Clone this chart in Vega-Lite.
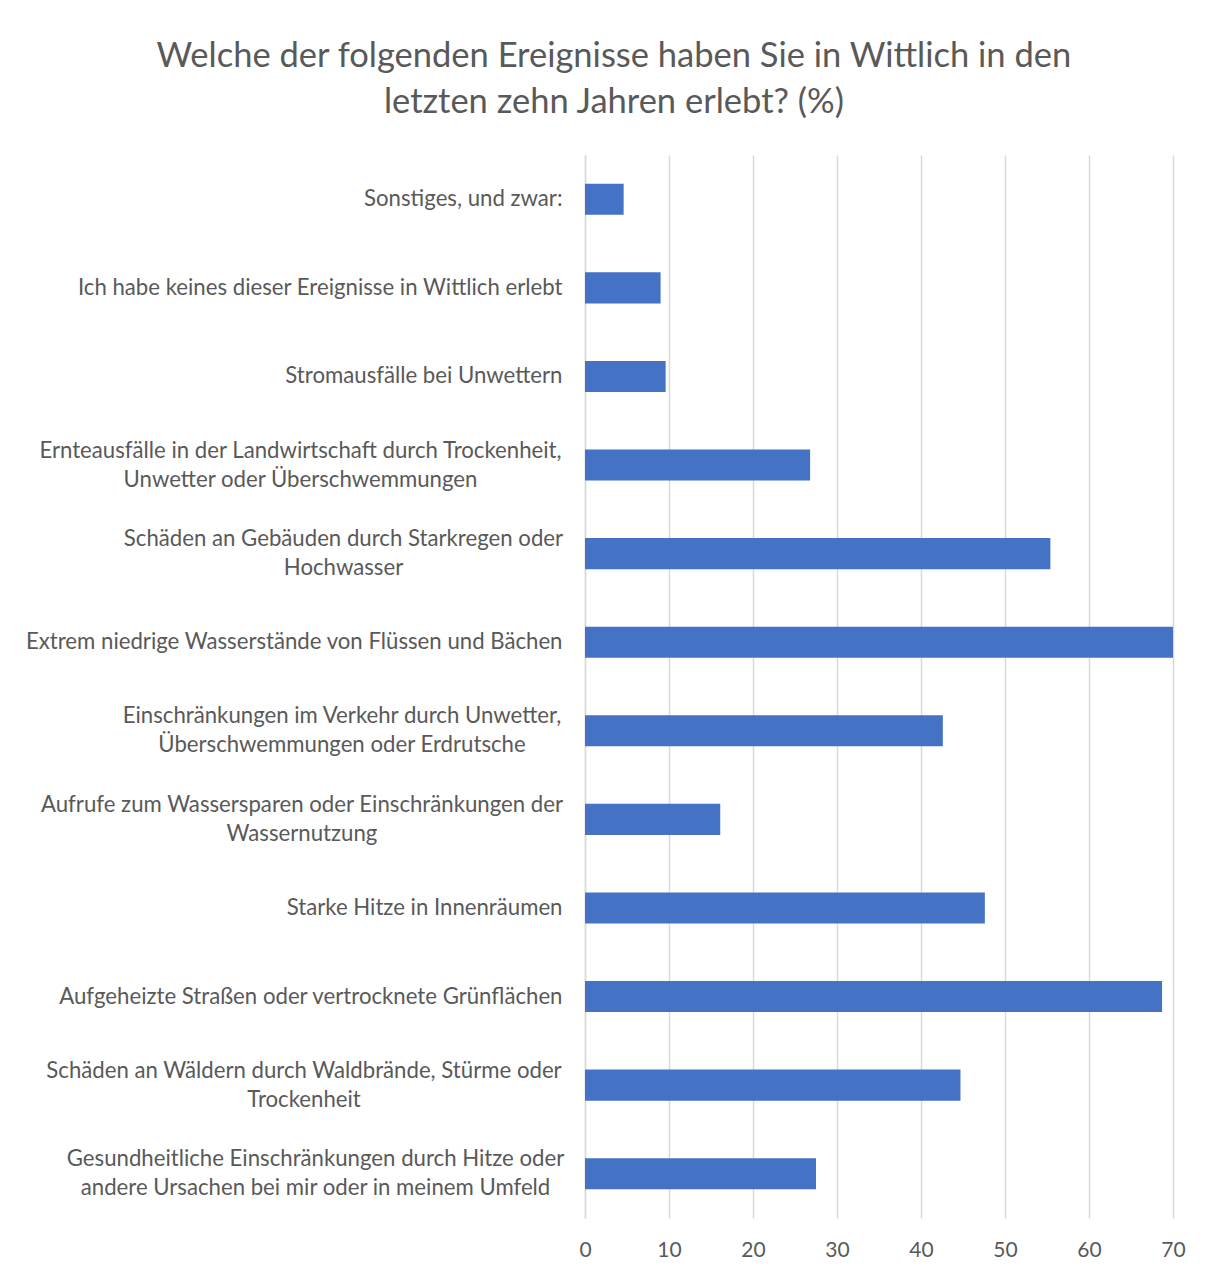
{
  "$schema": "https://vega.github.io/schema/vega-lite/v6.json",
  "width": 588,
  "height": 1063,
  "autosize": {"type": "none"},
  "padding": {"left": 585, "top": 155, "right": 39, "bottom": 55},
  "background": "white",
  "title": {
    "text": ["Welche der folgenden Ereignisse haben Sie in Wittlich in den", "letzten zehn Jahren erlebt? (%)"],
    "anchor": "middle",
    "frame": "bounds",
    "font": "Lato",
    "fontSize": 34.5,
    "fontWeight": "normal",
    "color": "#595959",
    "lineHeight": 46,
    "offset": 35,
    "dx": 9
  },
  "data": {
    "values": [
      {"label": "Sonstiges, und zwar:", "value": 4.6},
      {"label": "Ich habe keines dieser Ereignisse in Wittlich erlebt", "value": 9.0},
      {"label": "Stromausfälle bei Unwettern", "value": 9.6},
      {"label": "Ernteausfälle in der Landwirtschaft durch Trockenheit,|Unwetter oder Überschwemmungen", "value": 26.8},
      {"label": "Schäden an Gebäuden durch Starkregen oder|Hochwasser", "value": 55.4},
      {"label": "Extrem niedrige Wasserstände von Flüssen und Bächen", "value": 70.0},
      {"label": "Einschränkungen im Verkehr durch Unwetter,|Überschwemmungen oder Erdrutsche", "value": 42.6},
      {"label": "Aufrufe zum Wassersparen oder Einschränkungen der|Wassernutzung", "value": 16.1},
      {"label": "Starke Hitze in Innenräumen", "value": 47.6},
      {"label": "Aufgeheizte Straßen oder vertrocknete Grünflächen", "value": 68.7},
      {"label": "Schäden an Wäldern durch Waldbrände, Stürme oder|Trockenheit", "value": 44.7},
      {"label": "Gesundheitliche Einschränkungen durch Hitze oder|andere Ursachen bei mir oder in meinem Umfeld", "value": 27.5}
    ]
  },
  "mark": {"type": "bar", "color": "#4472C4"},
  "encoding": {
    "y": {
      "field": "label",
      "type": "nominal",
      "sort": null,
      "scale": {"paddingInner": 0.65, "paddingOuter": 0.325},
      "axis": {
        "title": null,
        "labelExpr": "split(datum.label, '|')",
        "labelFont": "Lato",
        "labelFontSize": 22.2,
        "labelColor": "#595959",
        "labelLineHeight": 29,
        "labelBaseline": "middle",
        "labelAlign": {"condition": {"test": "indexof(datum.value, '|') >= 0", "value": "center"}, "value": "right"},
        "labelOffset": {"condition": {"test": "indexof(datum.value, '|') >= 0", "value": -14.5}, "value": 0},
        "labelPadding": {
          "condition": [
            {"test": "indexof(datum.value, 'Ernteausf') === 0", "value": 285},
            {"test": "indexof(datum.value, 'Schäden an Geb') === 0", "value": 242},
            {"test": "indexof(datum.value, 'Einschränkungen im') === 0", "value": 243.5},
            {"test": "indexof(datum.value, 'Aufrufe') === 0", "value": 283.5},
            {"test": "indexof(datum.value, 'Schäden an Wäl') === 0", "value": 281.5},
            {"test": "indexof(datum.value, 'Gesundheit') === 0", "value": 270}
          ],
          "value": 23
        },
        "labelLimit": 600,
        "ticks": false,
        "domainColor": "#d9d9d9",
        "domainWidth": 1.5,
        "grid": false
      }
    },
    "x": {
      "field": "value",
      "type": "quantitative",
      "scale": {"domain": [0, 70], "nice": false},
      "axis": {
        "title": null,
        "values": [0, 10, 20, 30, 40, 50, 60, 70],
        "labelFont": "Lato",
        "labelFontSize": 21,
        "labelColor": "#595959",
        "labelPadding": 21,
        "labelFlush": false,
        "ticks": false,
        "domain": false,
        "grid": true,
        "gridColor": "#d9d9d9",
        "gridWidth": 1.5
      }
    }
  },
  "config": {"view": {"stroke": null}}
}
